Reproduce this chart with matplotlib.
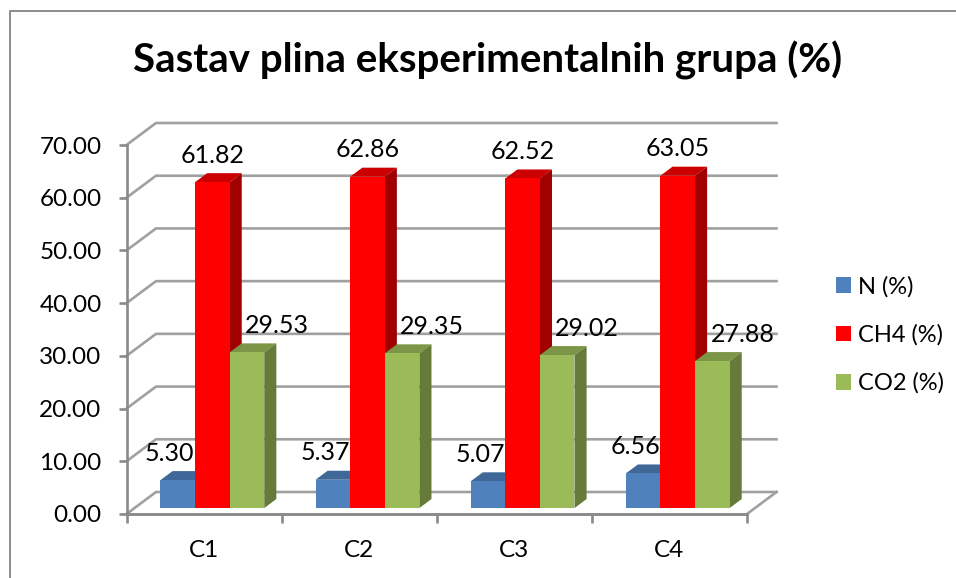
import numpy as np
import matplotlib
matplotlib.use("Agg")
import matplotlib.pyplot as plt
from matplotlib.lines import Line2D
from matplotlib.patches import Patch

plt.rcParams['font.family'] = ['Lato', 'DejaVu Sans']

categories = ['C1', 'C2', 'C3', 'C4']
n_values = [5.30, 5.37, 5.07, 6.56]
ch4_values = [61.82, 62.86, 62.52, 63.05]
co2_values = [29.53, 29.35, 29.02, 27.88]
y_ticks = [0, 10, 20, 30, 40, 50, 60, 70]

series_names = ['N (%)', 'CH4 (%)', 'CO2 (%)']
front_colors = ['#4f81bd', '#ff0000', '#9bbb59']
top_colors = ['#3f6797', '#cc0000', '#7c9647']
side_colors = ['#345578', '#a00000', '#667a3a']

GRID = '#a0a0a0'
AXIS = '#8a8a8a'

# pixel layout of the plot front plane
W, H = 956, 578
LEFT, RIGHT, TOP, BOTTOM = 126.5, 747, 145, 514
PX_X = (RIGHT - LEFT) / 4
PX_Y = (BOTTOM - TOP) / 70

# wall depth in data units, bars sit part way into it
DX = 29.5 / PX_X
DY = 22 / PX_Y
BAR_D0, BAR_D1 = 0.27, 0.68
BAR_W = 34.6 / PX_X
BAR_GAP = 0.1675


def proj(x, y, d):
    return x + d * DX, y + d * DY


def draw_bar(ax, x, value, i):
    x0, x1 = x, x + BAR_W
    fx0, fb = proj(x0, 0, BAR_D0)
    fx1, ft = proj(x1, value, BAR_D0)
    bx0, bb = proj(x0, 0, BAR_D1)
    bx1, bt = proj(x1, value, BAR_D1)
    ax.fill([fx0, bx0, bx1, fx1], [ft, bt, bt, ft], color=top_colors[i], lw=0, clip_on=False, zorder=3)
    ax.fill([fx1, bx1, bx1, fx1], [fb, bb, bt, ft], color=side_colors[i], lw=0, clip_on=False, zorder=3)
    ax.fill([fx0, fx1, fx1, fx0], [fb, fb, ft, ft], color=front_colors[i], lw=0, clip_on=False, zorder=3)
    return (fx0 + fx1) / 2, ft


fig = plt.figure(figsize=(W / 100, H / 100), dpi=100)
ax = fig.add_axes([LEFT / W, 1 - BOTTOM / H, (RIGHT - LEFT) / W, (BOTTOM - TOP) / H])
ax.set_xlim(0, 4)
ax.set_ylim(0, 70)
ax.patch.set_visible(False)

# chart frame, only top and left show in the picture
fig.add_artist(Line2D([9.5 / W, 9.5 / W, 1], [0, 1 - 11 / H, 1 - 11 / H], color='#8c8c8c', lw=1.4))

# back wall and side wall gridlines
for t in y_ticks:
    bx, by = proj(0, t, 1)
    ex, _ = proj(4, t, 1)
    ax.plot([0, bx, ex], [t, by, by], color=GRID, lw=1.9, clip_on=False, zorder=1, solid_joinstyle='miter')
rx, ry = proj(4, 0, 1)
ax.plot([4, rx], [0, ry], color=GRID, lw=1.9, clip_on=False, zorder=1)
ax.plot([0, 4], [0, 0], color=GRID, lw=1.9, clip_on=False, zorder=1)

# bars and labels, label offsets follow the picture
series = [n_values, ch4_values, co2_values]
label_offsets = [(-8, 27), (0, 27), (30, 27)]
for c in range(len(categories)):
    for i, values in enumerate(series):
        x = c + BAR_GAP + i * BAR_W
        cx, top = draw_bar(ax, x, values[c], i)
        ax.annotate(f'{values[c]:.2f}', (cx, top), xytext=label_offsets[i], textcoords='offset pixels',
                    ha='center', va='center', fontsize=18, color='black', zorder=5, annotation_clip=False)

for s in ['top', 'right']:
    ax.spines[s].set_visible(False)
for s in ['left', 'bottom']:
    ax.spines[s].set_color(AXIS)
    ax.spines[s].set_linewidth(1.9)

ax.set_yticks(y_ticks)
ax.set_yticklabels([f'{t:.2f}' for t in y_ticks])
ax.tick_params(axis='y', length=6, width=1.9, color=AXIS, pad=12, labelsize=17.5)
ax.set_xticks(range(5))
ax.set_xticklabels([])
ax.set_xticks(np.arange(len(categories)) + 0.5, minor=True)
ax.set_xticklabels(categories, minor=True)
ax.tick_params(axis='x', which='major', length=6.5, width=1.9, color=AXIS)
ax.tick_params(axis='x', which='minor', length=0, pad=18.5, labelsize=17.5)

fig.text(488 / W, 1 - 60 / H, 'Sastav plina eksperimentalnih grupa (%)', ha='center', va='center',
         fontsize=29, fontweight='bold', color='black')

handles = [Patch(facecolor=c, edgecolor='none') for c in front_colors]
fig.legend(handles, series_names, loc='center left', bbox_to_anchor=(817 / W, 1 - 335 / H), frameon=False,
           fontsize=17, handlelength=0.65, handleheight=0.65, handletextpad=0.3, labelspacing=1.13, borderpad=0.3)

fig.savefig('out.png', dpi=100)
